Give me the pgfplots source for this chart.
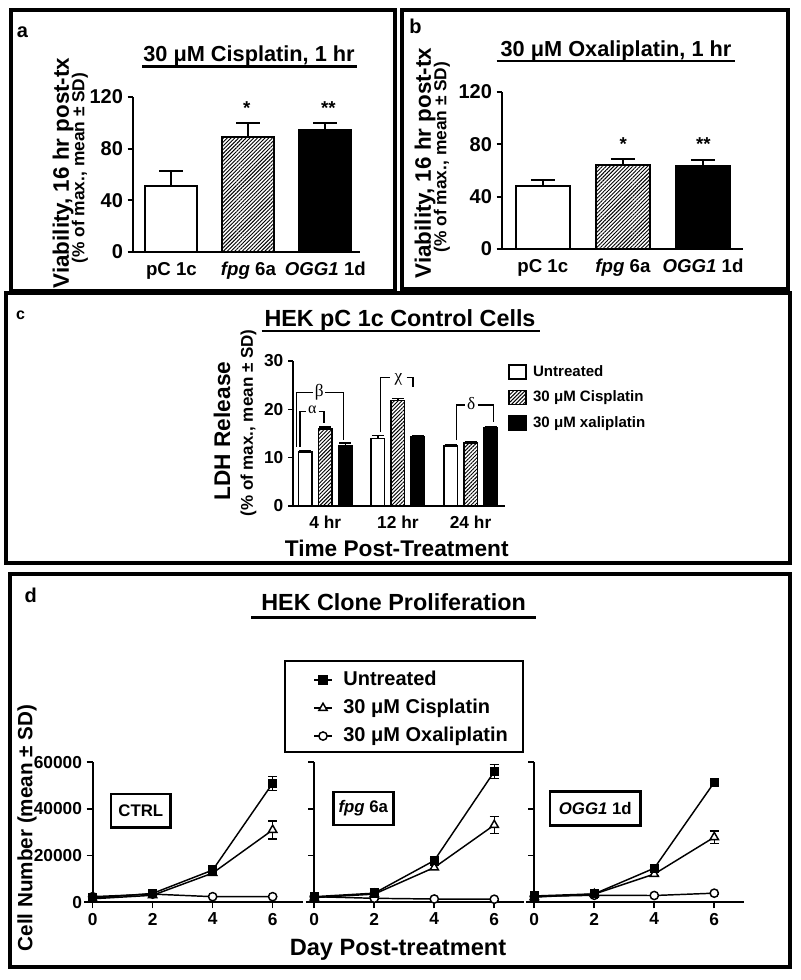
\documentclass[border=0pt]{standalone}
\usepackage{fontspec}
\setmainfont{Liberation Sans}
\newfontfamily\gr{Liberation Serif}
\usepackage{pgfplots}
\pgfplotsset{compat=1.18}
\usetikzlibrary{patterns.meta}
\newcommand\fs[1]{\fontsize{#1}{#1}\selectfont\bfseries}
\tikzset{hatch/.style={pattern={Lines[angle=45,distance=2pt,line width=0.7pt]},pattern color=black}}
\pgfplotsset{
  barpanel/.style={
    scale only axis, anchor=south west, clip=false,
    axis x line=bottom, axis y line=left,
    axis line style={line width=2pt,-},
    x tick style={draw=none},
    y tick style={line width=1.5pt,black},
    tick align=outside, major tick length=4pt,
    ymin=0, ymax=120, ytick={0,40,80,120}, yticklabels={0,40,80,120},
    xtick={1,2,3}, xticklabels={pC 1c,\textit{fpg} 6a,\textit{OGG1} 1d},
    yticklabel style={font=\fs{15}},
    xticklabel style={font=\fs{14}},
    ybar,
  },
  errp/.style={error bars/y dir=plus, error bars/y explicit,
    error bars/error bar style={line width=1.5pt,black},
    error bars/error mark options={rotate=90,mark size=#1,line width=1.5pt,black}},
  errc/.style={error bars/y dir=plus, error bars/y explicit,
    error bars/error bar style={line width=1.1pt,black},
    error bars/error mark options={rotate=90,mark size=4.5pt,line width=1.1pt,black}},
  errd/.style={error bars/y dir=both, error bars/y explicit,
    error bars/error bar style={line width=1.1pt,black},
    error bars/error mark options={rotate=90,mark size=3.4pt,line width=1.1pt,black}},
  sq/.style={/pgfplots/legend image code/.code={\draw[##1] (0pt,-5.25pt) rectangle (12.75pt,5.25pt); \path[draw=none,fill=none] (12.75pt,0pt) -- (16pt,0pt);}},
  dpanel/.style={
    scale only axis, anchor=south west, clip=false, width=157.5pt, height=105pt,
    xmin=0, xmax=7, ymin=0, ymax=60000,
    axis x line=bottom, axis y line=left, axis line style={line width=1.5pt,-},
    tick style={line width=1.2pt,black}, tick align=outside, major tick length=4.5pt,
    xtick={0,2,4,6}, xticklabels={0,2,4,6},
    ytick={0,20000,40000,60000}, yticklabels={},
    scaled y ticks=false,
    tick label style={font=\fs{13}},
    legend image code/.code={\draw[mark repeat=2,mark phase=2,##1] plot coordinates {(0pt,0pt) (6.75pt,0pt) (13.5pt,0pt)}; \path[draw=none,fill=none] (13.5pt,0pt) -- (20pt,0pt);},
  },
  untr/.style={black, line width=1.1pt, mark=square*, mark size=2.9pt, mark options={solid,fill=black}, errd},
  cis/.style={black, line width=1.1pt, mark=triangle*, mark size=3.6pt, mark options={solid,fill=white}, errd},
  oxa/.style={black, line width=1.1pt, mark=*, mark size=3.1pt, mark options={solid,fill=white}, errd},
}
\begin{document}
\begin{tikzpicture}
\useasboundingbox (0,0) rectangle (600pt,-735pt);
\begin{scope}[x=0.75pt,y=-0.75pt]
% frames
\draw[line width=3pt] (11,10) rectangle (395,291);
\draw[line width=3pt] (402,10) rectangle (788,289);
\draw[line width=3pt] (6,293) rectangle (790,563);
\draw[line width=3pt] (10,574) rectangle (790,967);
% panel a texts
\node[font=\fs{15},anchor=base] at (22.5,38) {a};
\node[font=\fs{16.3},anchor=base] at (249,61.7) {30 μM Cisplatin, 1 hr};
\draw[line width=2pt] (142,66.3) -- (357,66.3);
\node[font=\fs{16.8},rotate=90] at (63,173) {Viability, 16 hr post-tx};
\node[font=\fs{13},rotate=90] at (80,168) {(\% of max., mean ± SD)};
\node[font=\fs{14}] at (246.7,108) {*};
\node[font=\fs{14}] at (328.3,108) {**};
% panel b texts
\node[font=\fs{15},anchor=base] at (415.5,33.3) {b};
\node[font=\fs{16.3},anchor=base] at (616,56.7) {30 μM Oxaliplatin, 1 hr};
\draw[line width=2pt] (496.7,61) -- (735,61);
\node[font=\fs{16.8},rotate=90] at (425,163) {Viability, 16 hr post-tx};
\node[font=\fs{13},rotate=90] at (442,157) {(\% of max., mean ± SD)};
\node[font=\fs{14}] at (623.3,144) {*};
\node[font=\fs{14}] at (703.3,144) {**};
% panel c texts
\node[font=\fs{12},anchor=base] at (20.5,320) {c};
\node[font=\fs{17.5},anchor=base] at (400,326) {HEK pC 1c Control Cells};
\draw[line width=2pt] (261.5,331) -- (539.5,331);
\node[font=\fs{17},rotate=90] at (222,431) {LDH Release};
\node[font=\fs{12.75},rotate=90] at (248.5,423) {(\% of max., mean ± SD)};
\node[font=\fs{17},anchor=base] at (396.7,556) {Time Post-Treatment};
\begin{scope}[line width=1.1pt]
\draw (300,446.7) -- (300,411.7) -- (306,411.7);
\draw (318.5,411.7) -- (324,411.7) -- (324,423.3);
\node[font=\gr\fontsize{12}{12}\selectfont] at (312.3,410) {α};
\draw (296.7,446.7) -- (296.7,392.7) -- (313.3,392.7);
\draw (325,392.7) -- (343.3,392.7) -- (343.3,440);
\node[font=\gr\fontsize{13}{13}\selectfont] at (319.3,392.7) {β};
\draw (380.5,432) -- (380.5,377.3) -- (389.7,377.3);
\draw (406.7,377.3) -- (412.8,377.3) -- (412.8,387);
\node[font=\gr\fontsize{13}{13}\selectfont] at (398.5,379) {χ};
\draw (456.7,440) -- (456.7,405) -- (465,405);
\draw (477.7,405) -- (493.3,405) -- (493.3,421.7);
\node[font=\gr\fontsize{13}{13}\selectfont] at (471.3,404) {δ};
\end{scope}
% panel d texts
\node[font=\fs{15},anchor=base] at (30.8,602) {d};
\node[font=\fs{17.5},anchor=base] at (393.6,610.5) {HEK Clone Proliferation};
\draw[line width=2pt] (251.3,617.3) -- (536,617.3);
\node[font=\fs{15.5},rotate=90] at (27,828) {Cell Number (mean ± SD)};
\node[font=\fs{17.7},anchor=base] at (398,955) {Day Post-treatment};
\draw[line width=2.2pt] (285,661) rectangle (523,752);
\draw[line width=1.9pt] (111,794) rectangle (170.7,827.3);
\node[font=\fs{12.6}] at (140.8,810.7) {CTRL};
\draw[line width=1.9pt] (333.3,792) rectangle (393.3,825);
\node[font=\fs{12.6}] at (363.3,808.5) {\textit{fpg} 6a};
\draw[line width=1.9pt] (550,791.7) rectangle (640.7,825.7);
\node[font=\fs{12.6}] at (595.3,808.7) {\textit{OGG1} 1d};
\end{scope}

% ---------- panel a ----------
\begin{axis}[barpanel, at={(99.75pt,-189pt)}, width=170.25pt, height=116.25pt,
  xmin=0.5, xmax=3.45, bar width=39pt]
\addplot[bar shift=0pt, fill=white, draw=black, line width=1.5pt, errp=9pt] coordinates {(1,50.8) +- (0,12)};
\addplot[bar shift=0pt, hatch, draw=black, line width=1.5pt, errp=9pt] coordinates {(2,89) +- (0,11)};
\addplot[bar shift=0pt, fill=black, draw=black, line width=1.5pt, errp=9pt] coordinates {(3,94.2) +- (0,6)};
\end{axis}

% ---------- panel b ----------
\begin{axis}[barpanel, at={(376.5pt,-186.75pt)}, width=180.75pt, height=117.75pt,
  xmin=0.49, xmax=3.5, bar width=40.5pt]
\addplot[bar shift=0pt, fill=white, draw=black, line width=1.5pt, errp=9pt] coordinates {(1,48.2) +- (0,4.3)};
\addplot[bar shift=0pt, hatch, draw=black, line width=1.5pt, errp=9pt] coordinates {(2,64.2) +- (0,4.6)};
\addplot[bar shift=0pt, fill=black, draw=black, line width=1.5pt, errp=9pt] coordinates {(3,63.2) +- (0,4.8)};
\end{axis}

% ---------- panel c ----------
\begin{axis}[scale only axis, anchor=south west, clip=false,
  at={(220pt,-379.5pt)}, width=158.8pt, height=108.75pt,
  xmin=-0.44, xmax=2.475, ymin=0, ymax=30,
  axis x line=bottom, axis y line=left, axis line style={line width=1.5pt,-},
  x tick style={draw=none}, y tick style={line width=1.2pt,black},
  tick align=outside, major tick length=4pt,
  ytick={0,10,20,30}, yticklabels={0,10,20,30},
  xtick={0,1,2}, xticklabels={4 hr,12 hr,24 hr},
  yticklabel style={font=\fs{13}}, xticklabel style={font=\fs{13}},
  ybar, bar width=10.1pt,
  legend style={draw=none, fill=none, inner sep=0pt, at={(axis description cs:1.014,0.979)}, anchor=north west,
    font=\fs{11.3}, row sep=7.4pt, nodes={inner ysep=0pt, text height=8.5pt, text depth=2.5pt}},
  legend cell align=left,
]
\addplot[bar shift=-15pt, fill=white, draw=black, line width=1.2pt, sq, errc] coordinates {(0,11.2) +- (0,0.3) (1,14.0) +- (0,0.55) (2,12.4) +- (0,0.25)};
\addplot[bar shift=0pt, hatch, draw=black, line width=1.2pt, sq, errc] coordinates {(0,15.9) +- (0,0.4) (1,21.8) +- (0,0.45) (2,13.0) +- (0,0.2)};
\addplot[bar shift=15pt, fill=black, draw=black, line width=1.2pt, sq, errc] coordinates {(0,12.4) +- (0,0.6) (1,14.35) +- (0,0.15) (2,16.2) +- (0,0.2)};
\legend{Untreated, 30 μM Cisplatin, 30 μM xaliplatin}
\end{axis}

% ---------- panel d: CTRL ----------
\begin{axis}[dpanel, at={(69.5pt,-676.7pt)}, yticklabels={0,20000,40000,60000}]
\draw[line width=1.5pt] (axis cs:-0.28,0) -- (axis cs:0,0);
\addplot[oxa] coordinates {(0,2400) +- (0,300) (2,3500) +- (0,300) (4,2400) +- (0,300) (6,2400) +- (0,300)};
\addplot[cis] coordinates {(0,1500) +- (0,300) (2,3000) +- (0,400) (4,12500) +- (0,800) (6,31000) +- (0,3900)};
\addplot[untr] coordinates {(0,1800) +- (0,300) (2,3800) +- (0,500) (4,13800) +- (0,600) (6,51000) +- (0,3000)};
\end{axis}

% ---------- panel d: fpg 6a ----------
\begin{axis}[dpanel, at={(235.7pt,-676.7pt)},
  legend style={draw=none, fill=none, inner sep=0pt, at={(axis description cs:-0.006,1.656)}, anchor=north west,
    font=\fs{15}, row sep=7pt, nodes={inner ysep=0pt, text height=11pt, text depth=3pt}},
  legend cell align=left, reverse legend]
\draw[line width=1.5pt] (axis cs:-0.28,0) -- (axis cs:0,0);
\addplot[oxa] coordinates {(0,2400) +- (0,300) (2,1700) +- (0,300) (4,1400) +- (0,300) (6,1300) +- (0,300)};
\addplot[cis] coordinates {(0,2000) +- (0,300) (2,3500) +- (0,500) (4,14900) +- (0,800) (6,33100) +- (0,3700)};
\addplot[untr] coordinates {(0,2400) +- (0,300) (2,3900) +- (0,1700) (4,17900) +- (0,800) (6,56000) +- (0,3000)};
\legend{30 μM Oxaliplatin, 30 μM Cisplatin, Untreated}
\end{axis}

% ---------- panel d: OGG1 1d ----------
\begin{axis}[dpanel, at={(400.7pt,-676.7pt)}]
\draw[line width=1.5pt] (axis cs:-0.28,0) -- (axis cs:0,0);
\addplot[oxa] coordinates {(0,2500) +- (0,300) (2,3000) +- (0,300) (4,2900) +- (0,300) (6,3900) +- (0,400)};
\addplot[cis] coordinates {(0,2200) +- (0,300) (2,3500) +- (0,400) (4,12100) +- (0,700) (6,27900) +- (0,2700)};
\addplot[untr] coordinates {(0,2700) +- (0,300) (2,3600) +- (0,400) (4,14600) +- (0,600) (6,51400) +- (0,900)};
\end{axis}
\end{tikzpicture}
\end{document}
